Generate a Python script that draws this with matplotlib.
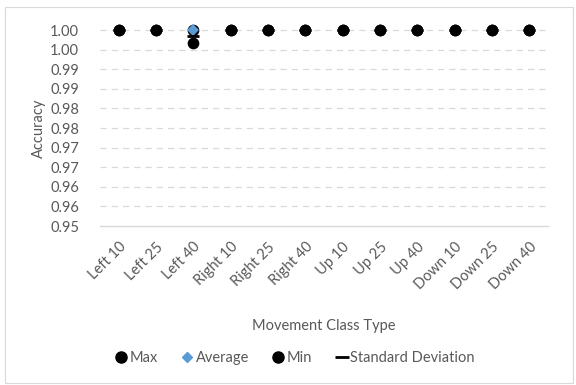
import matplotlib
matplotlib.use("Agg")
import matplotlib.pyplot as plt
from matplotlib.lines import Line2D
from matplotlib.ticker import FixedLocator, FuncFormatter

categories = ["Left 10", "Left 25", "Left 40", "Right 10", "Right 25", "Right 40",
              "Up 10", "Up 25", "Up 40", "Down 10", "Down 25", "Down 40"]
max_vals = [1.0, 1.0, 1.0, 1.0, 1.0, 1.0, 1.0, 1.0, 1.0, 1.0, 1.0, 1.0]
avg_vals = [1.0, 1.0, 0.99995, 1.0, 1.0, 1.0, 1.0, 1.0, 1.0, 1.0, 1.0, 1.0]
min_vals = [1.0, 1.0, 0.9967, 1.0, 1.0, 1.0, 1.0, 1.0, 1.0, 1.0, 1.0, 1.0]
std_vals = [1.0, 1.0, 0.9984, 1.0, 1.0, 1.0, 1.0, 1.0, 1.0, 1.0, 1.0, 1.0]
y_ticks = [0.95, 0.955, 0.96, 0.965, 0.97, 0.975, 0.98, 0.985, 0.99, 0.995, 1.0]

plt.rcParams["font.family"] = ["Lato", "DejaVu Sans"]
text_color = "#595959"
grid_color = "#d9d9d9"
blue = "#5b9bd5"
fs = 10.5

fig = plt.figure(figsize=(5.76, 3.85), dpi=100)
ax = fig.add_axes([100 / 576, 1 - 226 / 385, 448 / 576, 196 / 385])

x = list(range(len(categories)))
ax.plot(x, max_vals, "o", color="black", ms=7.4, zorder=3, clip_on=False, label="Max")
ax.plot(x, avg_vals, "D", color=blue, ms=5.8, mew=0, zorder=4, clip_on=False,
        label="Average")
ax.plot(x, min_vals, "o", color="black", ms=7.4, zorder=5, clip_on=False, label="Min")
ax.plot(x, std_vals, "_", color="black", ms=9, mew=2, zorder=6, clip_on=False,
        label="Standard Deviation")

ax.set_xlim(-0.5, len(categories) - 0.5)
ax.set_ylim(0.95, 1.0)
ax.yaxis.set_major_locator(FixedLocator(y_ticks))
ax.yaxis.set_major_formatter(FuncFormatter(lambda v, p: f"{v + 1e-9:.2f}"))
ax.set_xticks(x)
ax.set_xticklabels(categories, rotation=45, ha="right", rotation_mode="anchor")

for s in ["top", "right", "left"]:
    ax.spines[s].set_visible(False)
ax.spines["bottom"].set_color(grid_color)
ax.spines["bottom"].set_linewidth(1.0)
ax.tick_params(axis="both", length=0, colors=text_color, labelsize=fs)
ax.tick_params(axis="y", pad=15)
ax.tick_params(axis="x", pad=10)
for yv in y_ticks[1:]:
    ax.axhline(yv, color=grid_color, lw=0.9, ls=(0, (5, 4)), zorder=0, clip_on=False)

ax.set_ylabel("Accuracy", color=text_color, fontsize=fs, labelpad=3)
ax.set_xlabel("Movement Class Type", color=text_color, fontsize=fs, labelpad=19)

handles = [
    Line2D([], [], marker="o", color="black", ls="none", ms=8),
    Line2D([], [], marker="D", color=blue, ls="none", ms=5),
    Line2D([], [], marker="o", color="black", ls="none", ms=8),
    Line2D([], [], marker="_", color="black", ls="none", ms=10, mew=2),
]
fig.legend(handles, ["Max", "Average", "Min", "Standard Deviation"],
           loc="center", bbox_to_anchor=(295 / 576, 1 - 358 / 385), ncol=4,
           frameon=False, fontsize=fs, labelcolor=text_color,
           handlelength=0.8, handletextpad=0.2, columnspacing=1.6)

fig.patches.append(plt.Rectangle((5 / 576, 2 / 385), 568 / 576, 376 / 385,
                                 transform=fig.transFigure, fill=False,
                                 edgecolor=grid_color, lw=0.8))
fig.savefig("out.png", dpi=100)
